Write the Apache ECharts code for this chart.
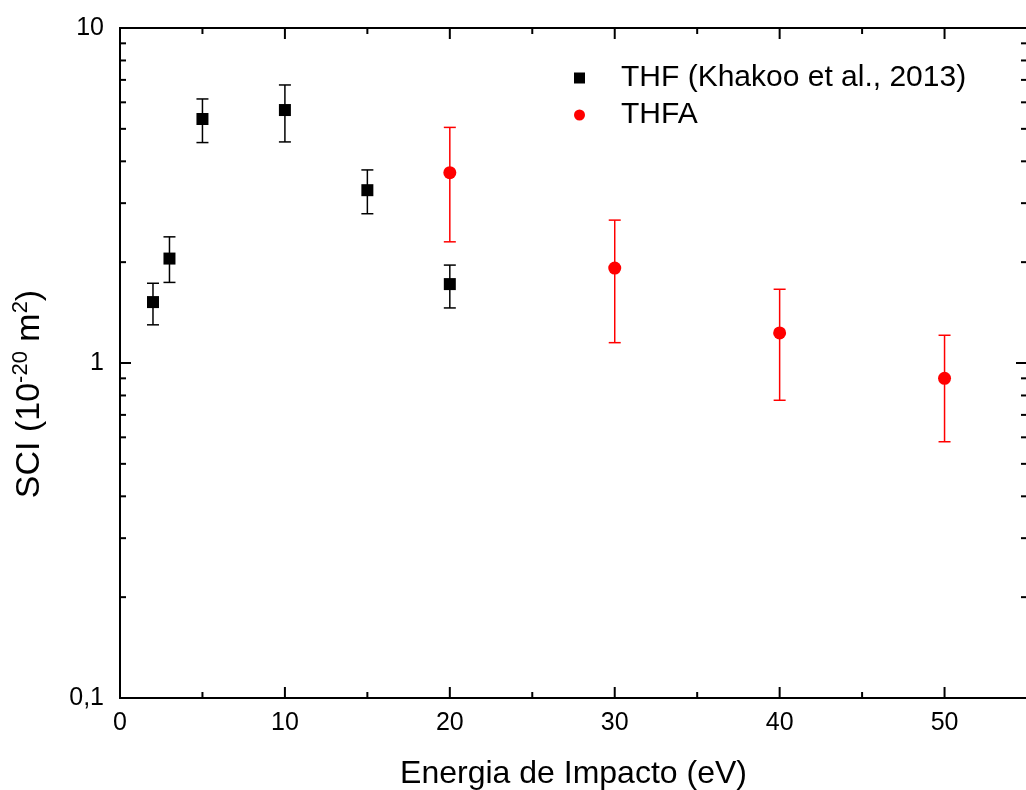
<!DOCTYPE html>
<html>
<head>
<meta charset="utf-8">
<script src="https://cdn.jsdelivr.net/npm/echarts@6/dist/echarts.min.js"></script>
<style>
html,body{margin:0;padding:0;background:#fff;}
#chart{width:1026px;height:790px;}
</style>
</head>
<body>
<div id="chart"></div>
<script>
// ---- data ----
const thfX    = [2, 3, 5, 10, 15, 20];
const thfY    = [1.52, 2.05, 5.35, 5.69, 3.28, 1.72];
const thfLow  = [1.30, 1.74, 4.55, 4.57, 2.79, 1.46];
const thfHigh = [1.73, 2.38, 6.14, 6.76, 3.77, 1.96];

const thfaX    = [20, 30, 40, 50];
const thfaY    = [3.70, 1.92, 1.23, 0.90];
const thfaLow  = [2.30, 1.15, 0.774, 0.582];
const thfaHigh = [5.05, 2.67, 1.66, 1.21];

const seriesNames = ['THF (Khakoo et al., 2013)', 'THFA'];
const xMajorTicks = [0, 10, 20, 30, 40, 50];
const xMinorTicks = [5, 15, 25, 35, 45];
const yMajorTicks = [0.1, 1, 10];
const yMinorTicks = [0.2,0.3,0.4,0.5,0.6,0.7,0.8,0.9, 2,3,4,5,6,7,8,9];
const xTitle = 'Energia de Impacto (eV)';

const FONT = 'Liberation Sans, Arial, sans-serif';
const chart = echarts.init(document.getElementById('chart'), null, {renderer:'canvas'});

function errData(xs, lo, hi){ return xs.map((x,i)=>[x, lo[i], hi[i]]); }
function pts(xs, ys){ return xs.map((x,i)=>[x, ys[i]]); }

function errRender(color){
  return function(params, api){
    const x = api.value(0);
    const pLo = api.coord([x, api.value(1)]);
    const pHi = api.coord([x, api.value(2)]);
    const cap = 6;
    const st = {stroke: color, lineWidth: 1.5};
    return {type:'group', children:[
      {type:'line', shape:{x1:pLo[0], y1:pLo[1], x2:pHi[0], y2:pHi[1]}, style:st},
      {type:'line', shape:{x1:pLo[0]-cap, y1:pLo[1], x2:pLo[0]+cap, y2:pLo[1]}, style:st},
      {type:'line', shape:{x1:pHi[0]-cap, y1:pHi[1], x2:pHi[0]+cap, y2:pHi[1]}, style:st}
    ]};
  };
}

// inward tick marks (orient 0 = x-axis tick, 1 = y-axis tick), drawn on both sides of the frame
const MAJ = 11, MIN = 6;
const tickData = [].concat(
  xMajorTicks.map(v => [v, 1, MAJ, 0]),
  xMinorTicks.map(v => [v, 1, MIN, 0]),
  yMajorTicks.map(v => [0, v, MAJ, 1]),
  yMinorTicks.map(v => [0, v, MIN, 1])
);
function tickRender(params, api){
  const cs = params.coordSys;
  const len = api.value(2);
  const st = {stroke:'#000', lineWidth:2};
  if (api.value(3) === 0) {
    const px = api.coord([api.value(0), 1])[0];
    const yb = cs.y + cs.height, yt = cs.y;
    return {type:'group', children:[
      {type:'line', shape:{x1:px, y1:yb, x2:px, y2:yb-len}, style:st},
      {type:'line', shape:{x1:px, y1:yt, x2:px, y2:yt+len}, style:st}
    ]};
  } else {
    const py = api.coord([0, api.value(1)])[1];
    const xl = cs.x, xr = cs.x + cs.width;
    return {type:'group', children:[
      {type:'line', shape:{x1:xl, y1:py, x2:xl+len, y2:py}, style:st},
      {type:'line', shape:{x1:xr, y1:py, x2:xr-len, y2:py}, style:st}
    ]};
  }
}

const yFmt = v => String(+(+v).toPrecision(3)).replace('.', ',');
const lineSt = {show:true, lineStyle:{color:'#000', width:2}};

const option = {
  backgroundColor:'#fff',
  animation:false,
  grid:{left:120, top:28, width:907, height:670, containLabel:false, outerBoundsMode:'none'},
  xAxis:[
    {type:'value', position:'bottom', min:0, max:55, interval:10,
     axisLine:lineSt, axisTick:{show:false},
     axisLabel:{show:true, color:'#000', fontSize:25, fontFamily:FONT, margin:13, showMaxLabel:false,
       formatter: v => (v % 10 === 0 && v <= 50) ? String(v) : ''},
     splitLine:{show:false},
     name: xTitle, nameLocation:'middle', nameGap:60,
     nameTextStyle:{color:'#000', fontSize:32, fontFamily:FONT}},
    {type:'value', position:'top', min:0, max:55, interval:10,
     axisLine:lineSt, axisTick:{show:false}, axisLabel:{show:false}, splitLine:{show:false}}
  ],
  yAxis:[
    {type:'log', logBase:10, position:'left', min:0.1, max:10,
     axisLine:lineSt, axisTick:{show:false},
     axisLabel:{show:true, color:'#000', fontSize:25, fontFamily:FONT, margin:16, formatter:yFmt},
     splitLine:{show:false}, minorTick:{show:false}},
    {type:'log', logBase:10, position:'right', min:0.1, max:10,
     axisLine:lineSt, axisTick:{show:false}, axisLabel:{show:false}, splitLine:{show:false}}
  ],
  legend:{
    orient:'vertical', left:569, top:58, itemWidth:11, itemHeight:11, itemGap:7,
    textStyle:{color:'#000', fontSize:30, fontFamily:FONT, lineHeight:30, padding:[0,0,0,31]},
    data:[{name:seriesNames[0], icon:'rect'}, {name:seriesNames[1], icon:'circle'}]
  },
  graphic:[{
    type:'text', x:30, y:394, rotation:Math.PI/2,
    style:{
      text:'{a|SCI (10}{s|-20}{a| m}{s|2}{a|)}',
      fill:'#000', align:'center', verticalAlign:'middle',
      rich:{
        a:{fontSize:34, fontFamily:FONT, fill:'#000', lineHeight:40},
        s:{fontSize:22, fontFamily:FONT, fill:'#000', lineHeight:22, verticalAlign:'top'}
      }
    }
  }],
  series:[
    {type:'custom', name:'ticks', xAxisIndex:0, yAxisIndex:0, renderItem:tickRender,
     data: tickData, z:5, silent:true, clip:false},
    {type:'custom', name:'thfErr', xAxisIndex:0, yAxisIndex:0, renderItem:errRender('#000'),
     data: errData(thfX, thfLow, thfHigh), z:2, silent:true},
    {type:'custom', name:'thfaErr', xAxisIndex:0, yAxisIndex:0, renderItem:errRender('#ff0000'),
     data: errData(thfaX, thfaLow, thfaHigh), z:2, silent:true},
    {type:'scatter', name:seriesNames[0], xAxisIndex:0, yAxisIndex:0, symbol:'rect', symbolSize:12,
     itemStyle:{color:'#000', opacity:1}, data: pts(thfX, thfY), z:3},
    {type:'scatter', name:seriesNames[1], xAxisIndex:0, yAxisIndex:0, symbol:'circle', symbolSize:13,
     itemStyle:{color:'#ff0000', opacity:1}, data: pts(thfaX, thfaY), z:3}
  ]
};
chart.setOption(option);
</script>
</body>
</html>
